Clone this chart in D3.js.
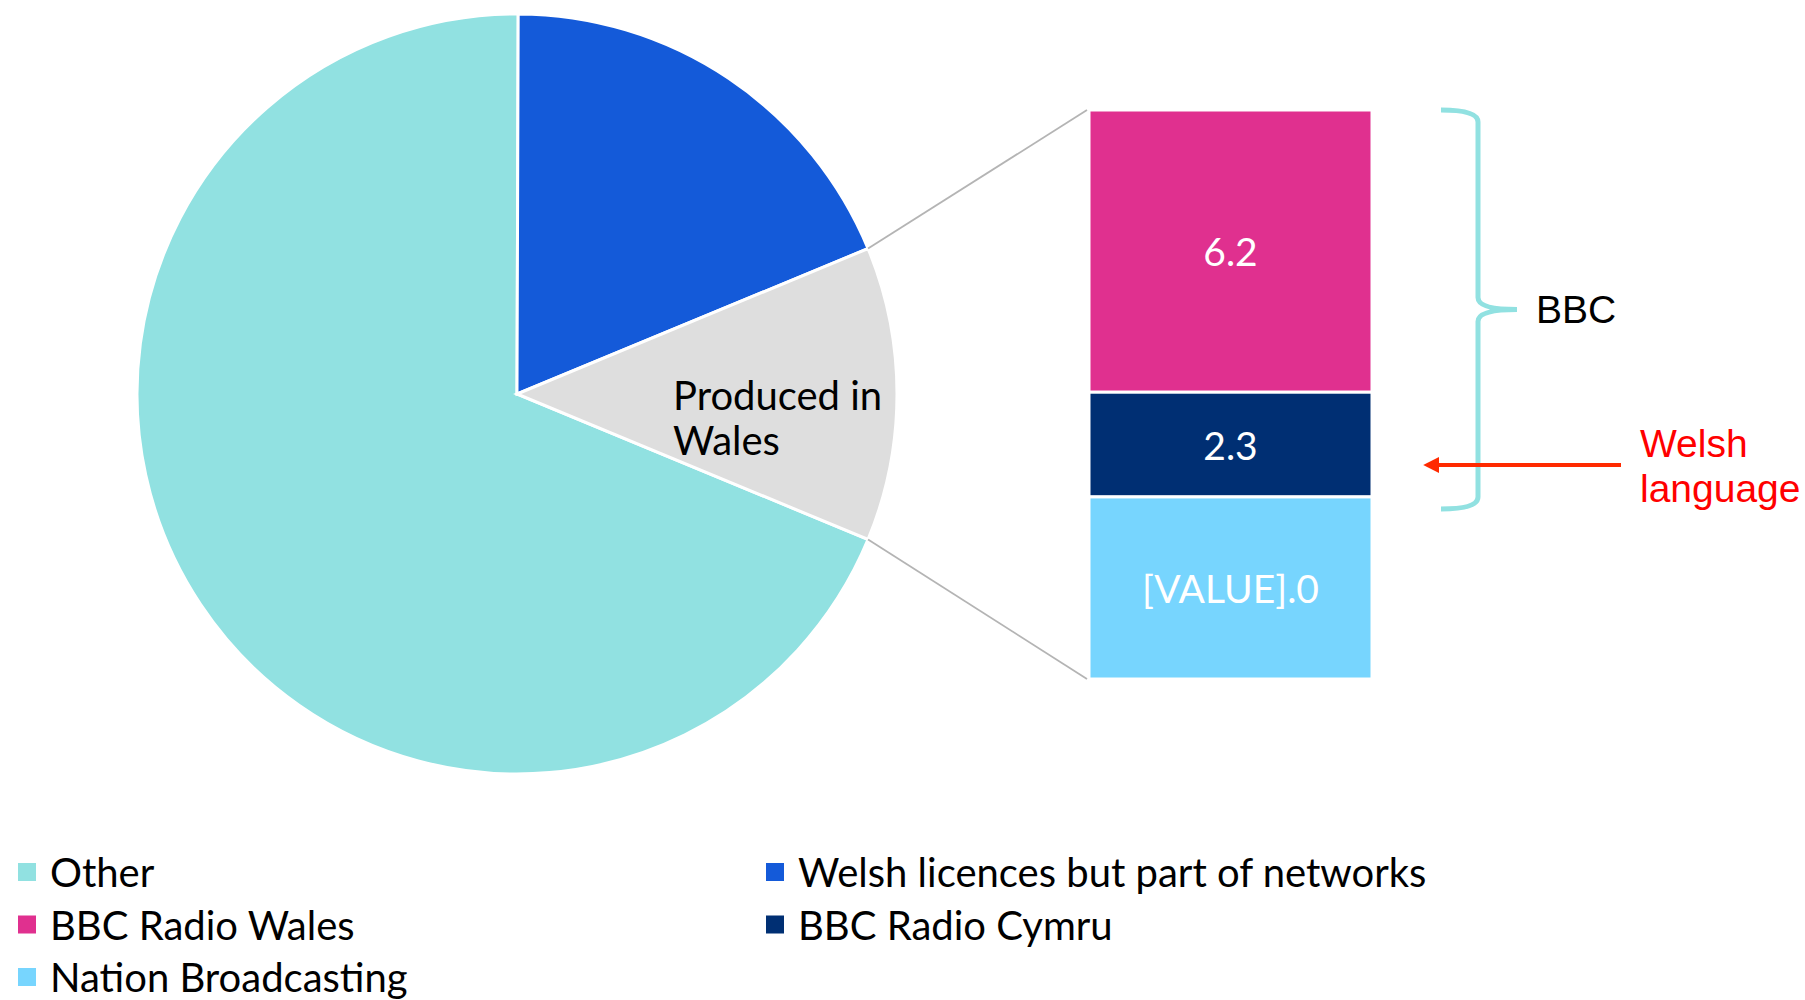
<!DOCTYPE html>
<html>
<head>
  <meta charset="utf-8">
  <title>Produced in Wales</title>
  <style>
    body { margin: 0; background: #fff; }
    svg { display: block; }
  </style>
</head>
<body>
  <svg width="1805" height="1000"></svg>
  <script src="https://d3js.org/d3.v7.min.js"></script>
  <script>
    // pie slices (the last one is split out into the bar)
    const pieNames = ["Other", "Welsh licences but part of networks", "Produced in Wales"];
    const pieColors = ["#91e1e1", "#145ad9", "#dedede"];

    // bar of the "Produced in Wales" slice, top to bottom
    const barNames = ["BBC Radio Wales", "BBC Radio Cymru", "Nation Broadcasting"];
    const barValues = [6.2, 2.3, 4.0];
    const barLabels = ["6.2", "2.3", "[VALUE].0"];
    const barColors = ["#e0308f", "#002f73", "#77d5fe"];

    const otherValue = 68.8;
    const licenceValue = 18.7;
    const walesValue = d3.sum(barValues);
    const pieValues = [otherValue, licenceValue, walesValue];

    const legendNames = ["Other", "Welsh licences but part of networks", "BBC Radio Wales", "BBC Radio Cymru", "Nation Broadcasting"];
    const legendColors = ["#91e1e1", "#145ad9", "#e0308f", "#002f73", "#77d5fe"];

    const svg = d3.select("svg");
    const cx = 517, cy = 394, r = 380;
    const total = d3.sum(pieValues);
    const walesAngle = walesValue / total * 2 * Math.PI;
    const start = Math.PI / 2 + walesAngle / 2;

    const pie = d3.pie().sort(null).value(d => d)
      .startAngle(start).endAngle(start + 2 * Math.PI);
    const arcs = pie(pieValues);
    const arc = d3.arc().innerRadius(0).outerRadius(r);

    const g = svg.append("g").attr("transform", `translate(${cx},${cy})`);
    g.selectAll("path")
      .data(arcs).enter()
      .append("path")
      .attr("d", arc)
      .attr("fill", (d, i) => pieColors[i])
      .attr("stroke", "#fff")
      .attr("stroke-width", 3);

    // label inside the grey slice
    g.append("text")
      .attr("x", 156).attr("y", 16)
      .attr("font-family", "Lato, sans-serif")
      .attr("font-size", 40)
      .attr("fill", "#000")
      .selectAll("tspan")
      .data(["Produced in", "Wales"]).enter()
      .append("tspan")
      .attr("x", 156)
      .attr("dy", (d, i) => i === 0 ? 0 : 45)
      .text(d => d);

    // bar
    const barX = 1089, barW = 283, barTop = 110, barBottom = 679;
    const y = d3.scaleLinear().domain([0, walesValue]).range([barTop, barBottom]);
    const stacked = [];
    let acc = 0;
    barValues.forEach((v, i) => { stacked.push({ y0: acc, y1: acc + v, i }); acc += v; });

    svg.selectAll("rect.bar")
      .data(stacked).enter()
      .append("rect")
      .attr("class", "bar")
      .attr("x", barX)
      .attr("y", d => y(d.y0))
      .attr("width", barW)
      .attr("height", d => y(d.y1) - y(d.y0))
      .attr("fill", d => barColors[d.i])
      .attr("stroke", "#fff")
      .attr("stroke-width", 3);

    svg.selectAll("text.barlabel")
      .data(stacked).enter()
      .append("text")
      .attr("class", "barlabel")
      .attr("x", barX + barW / 2)
      .attr("y", d => (y(d.y0) + y(d.y1)) / 2)
      .attr("text-anchor", "middle")
      .attr("dominant-baseline", "central")
      .attr("font-family", "Lato, sans-serif")
      .attr("font-size", 39)
      .attr("fill", "#fff")
      .text(d => barLabels[d.i]);

    // connector lines from the grey slice to the bar
    const wales = arcs[2];
    const p1 = [cx + r * Math.sin(wales.startAngle), cy - r * Math.cos(wales.startAngle)];
    const p2 = [cx + r * Math.sin(wales.endAngle), cy - r * Math.cos(wales.endAngle)];
    svg.append("line")
      .attr("x1", p1[0]).attr("y1", p1[1]).attr("x2", barX - 2).attr("y2", y(0))
      .attr("stroke", "#b4b4b4").attr("stroke-width", 1.8);
    svg.append("line")
      .attr("x1", p2[0]).attr("y1", p2[1]).attr("x2", barX - 2).attr("y2", y(walesValue))
      .attr("stroke", "#b4b4b4").attr("stroke-width", 1.8);

    // brace for BBC
    const bTop = y(0), bBot = y(barValues[0] + barValues[1]) + 12;
    const bMid = (bTop + bBot) / 2;
    const bx0 = 1441, bx1 = 1478, bx2 = 1517;
    const brace = `M${bx0},${bTop} Q${bx1},${bTop} ${bx1},${bTop + 12}
      L${bx1},${bMid - 12} Q${bx1},${bMid} ${bx2},${bMid}
      Q${bx1},${bMid} ${bx1},${bMid + 12}
      L${bx1},${bBot - 12} Q${bx1},${bBot} ${bx0},${bBot}`;
    svg.append("path")
      .attr("d", brace)
      .attr("fill", "none")
      .attr("stroke", "#91e1e1")
      .attr("stroke-width", 5);
    svg.append("text")
      .attr("x", 1536).attr("y", bMid)
      .attr("dominant-baseline", "central")
      .attr("font-family", "'Liberation Sans', Arial, sans-serif")
      .attr("font-size", 39)
      .attr("fill", "#000")
      .text("BBC");

    // Welsh language arrow
    const arrowY = 465;
    svg.append("defs").append("marker")
      .attr("id", "head")
      .attr("viewBox", "0 0 10 10")
      .attr("refX", 2).attr("refY", 5)
      .attr("markerWidth", 4).attr("markerHeight", 4)
      .attr("orient", "auto")
      .append("path").attr("d", "M0,0 L10,5 L0,10 z").attr("fill", "#ff2a00");
    svg.append("line")
      .attr("x1", 1621).attr("y1", arrowY).attr("x2", 1436).attr("y2", arrowY)
      .attr("stroke", "#ff2a00").attr("stroke-width", 4)
      .attr("marker-end", "url(#head)");
    svg.append("text")
      .attr("font-family", "'Liberation Sans', Arial, sans-serif")
      .attr("font-size", 39)
      .attr("fill", "#ff0000")
      .selectAll("tspan")
      .data(["Welsh", "language"]).enter()
      .append("tspan")
      .attr("x", 1640)
      .attr("y", (d, i) => 457 + i * 45)
      .text(d => d);

    // legend, two columns
    const legend = svg.selectAll("g.legend")
      .data(legendNames).enter()
      .append("g")
      .attr("class", "legend")
      .attr("transform", (d, i) => `translate(${i % 2 === 0 ? 18 : 766},${872 + Math.floor(i / 2) * 52.5})`);
    legend.append("rect")
      .attr("x", 0).attr("y", -9)
      .attr("width", 18).attr("height", 18)
      .attr("fill", (d, i) => legendColors[i]);
    legend.append("text")
      .attr("x", 32).attr("y", 0)
      .attr("dominant-baseline", "central")
      .attr("font-family", "Lato, sans-serif")
      .attr("font-size", 40)
      .attr("fill", "#000")
      .text(d => d);
  </script>
</body>
</html>
